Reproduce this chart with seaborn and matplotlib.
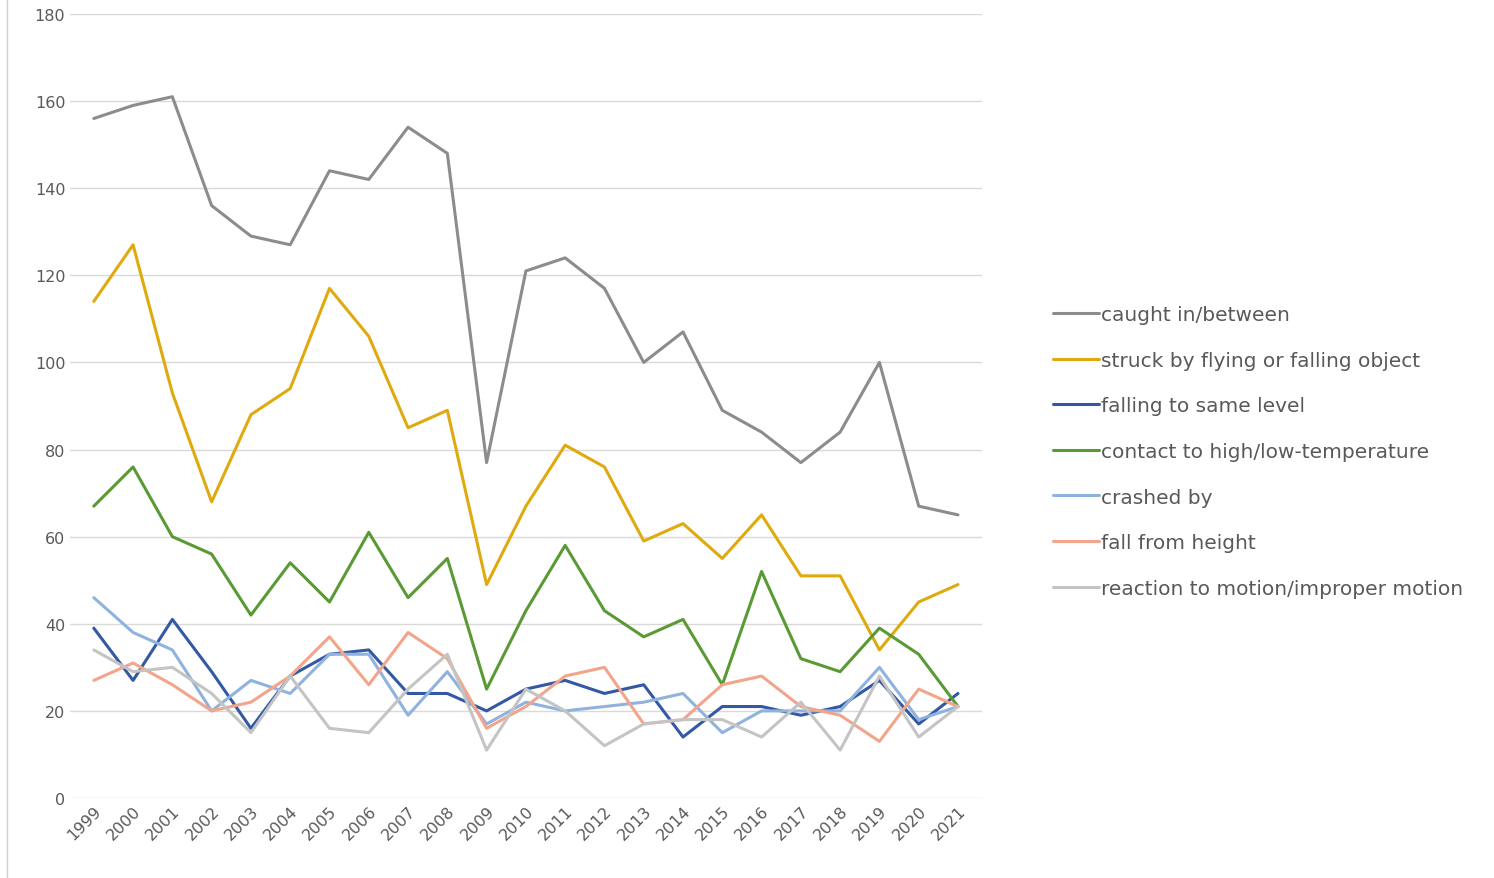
import matplotlib
matplotlib.use("Agg")
import matplotlib.pyplot as plt
import seaborn as sns
import pandas as pd

years = [str(y) for y in range(1999, 2022)]
caught = [156,159,161,136,129,127,144,142,154,148,77,121,124,117,100,107,89,84,77,84,100,67,65]
struck = [114,127,93,68,88,94,117,106,85,89,49,67,81,76,59,63,55,65,51,51,34,45,49]
same_level = [39,27,41,29,16,28,33,34,24,24,20,25,27,24,26,14,21,21,19,21,27,17,24]
contact = [67,76,60,56,42,54,45,61,46,55,25,43,58,43,37,41,26,52,32,29,39,33,21]
crashed = [46,38,34,20,27,24,33,33,19,29,17,22,20,21,22,24,15,20,20,20,30,18,21]
fall_height = [27,31,26,20,22,28,37,26,38,32,16,21,28,30,17,18,26,28,21,19,13,25,21]
reaction = [34,29,30,24,15,28,16,15,25,33,11,25,20,12,17,18,18,14,22,11,28,14,21]

series = {
    "caught in/between": (caught, "#8c8c8c"),
    "struck by flying or falling object": (struck, "#e0aa0f"),
    "falling to same level": (same_level, "#3358a4"),
    "contact to high/low-temperature": (contact, "#5a9a35"),
    "crashed by": (crashed, "#8fb3de"),
    "fall from height": (fall_height, "#f2a58a"),
    "reaction to motion/improper motion": (reaction, "#c4c4c4"),
}
rows = []
for name, (vals, _) in series.items():
    for y, v in zip(years, vals):
        rows.append({"year": y, "value": v, "type": name})
df = pd.DataFrame(rows)
palette = {k: c for k, (_, c) in series.items()}

sns.set_style("white")
fig = plt.figure(figsize=(14.94, 8.79), dpi=100)
ax = fig.add_axes([0.047, 0.091, 0.61, 0.892])
sns.lineplot(data=df, x="year", y="value", hue="type", palette=palette, linewidth=2.2, ax=ax, sort=False)
ax.set_ylim(0, 180)
ax.set_yticks(range(0, 181, 20))
ax.set_xlim(-0.6, 22.6)
ax.grid(axis="y", color="#d9d9d9", linewidth=1)
for s in ax.spines.values():
    s.set_visible(False)
ax.set_xlabel("")
ax.set_ylabel("")
ax.tick_params(axis="both", colors="#595959", labelsize=11.5, length=0)
plt.setp(ax.get_xticklabels(), rotation=45, ha="right", rotation_mode="anchor")
ax.legend(loc="center left", bbox_to_anchor=(1.058, 0.442), frameon=False, fontsize=14.5,
          labelcolor="#595959", handlelength=2.3, handletextpad=0.1, labelspacing=1.32)
fig.add_artist(plt.Line2D([0.005, 0.005], [0, 1], color="#d0d0d0", linewidth=1))
fig.savefig("out.png", dpi=100)
